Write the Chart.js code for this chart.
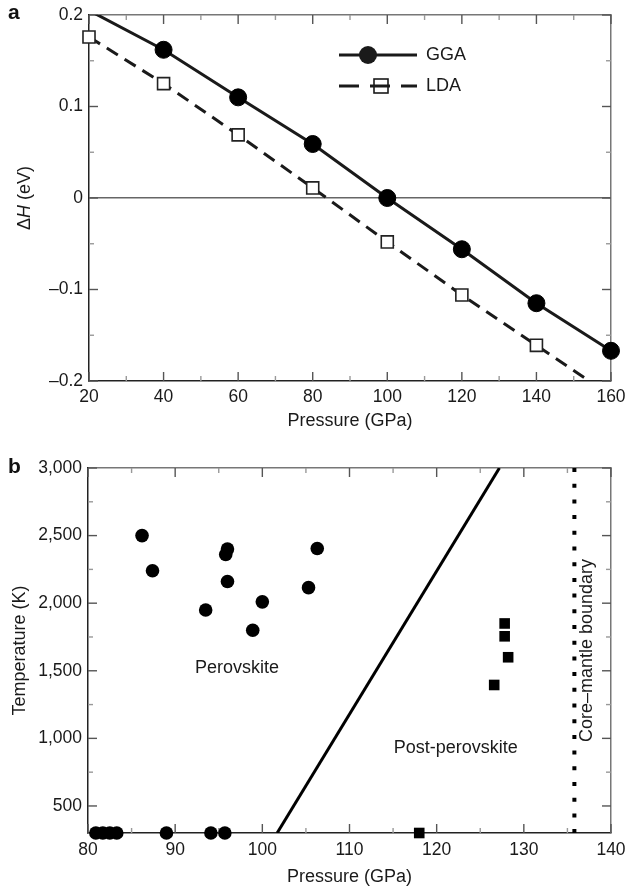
<!DOCTYPE html>
<html lang="en">
<head>
<meta charset="utf-8">
<title>Perovskite / post-perovskite transition</title>
<script src="https://cdn.jsdelivr.net/npm/chart.js@4.4.1/dist/chart.umd.min.js"></script>
<style>
  html, body { margin: 0; padding: 0; background: #fff; }
  .panel { position: absolute; left: 0; width: 627px; }
  #panelA { top: 0; height: 440px; }
  #panelB { top: 440px; height: 448px; }
</style>
</head>
<body>
<div class="panel" id="panelA"><canvas id="enthalpyChart"></canvas></div>
<div class="panel" id="panelB"><canvas id="phaseChart"></canvas></div>
<script>
// panel a: enthalpy difference vs pressure
const pressureA = [20, 40, 60, 80, 100, 120, 140, 160];
const ggaEnthalpy = [0.205, 0.162, 0.110, 0.059, 0.0, -0.056, -0.115, -0.167];
const ldaEnthalpy = [0.176, 0.125, 0.069, 0.011, -0.048, -0.106, -0.161, -0.216];
const pressureTicksA = [20, 40, 60, 80, 100, 120, 140, 160];
const pressureMinorA = [30, 50, 70, 90, 110, 130, 150];
const enthalpyTicks = [-0.2, -0.1, 0, 0.1, 0.2];
const enthalpyMinor = [-0.15, -0.05, 0.05, 0.15];

// panel b: experiments in P-T space
const perovskitePressure = [86.2, 87.4, 93.5, 95.8, 96.0, 96.0, 98.9, 100.0, 105.3, 106.3, 80.9, 81.7, 82.5, 83.3, 89.0, 94.1, 95.7];
const perovskiteTemp = [2500, 2240, 1950, 2360, 2400, 2160, 1800, 2010, 2115, 2405, 300, 300, 300, 300, 300, 300, 300];
const postPvPressure = [127.8, 127.8, 128.2, 126.6, 118.0];
const postPvTemp = [1850, 1755, 1600, 1395, 300];
const boundaryPressure = [101.7, 127.2];
const boundaryTemp = [300, 3000];
const cmbPressure = [135.8, 135.8];
const cmbTemp = [3000, 300];
const pressureTicksB = [80, 90, 100, 110, 120, 130, 140];
const pressureMinorB = [85, 95, 105, 115, 125, 135];
const tempTicks = [500, 1000, 1500, 2000, 2500, 3000];
const tempMinor = [750, 1250, 1750, 2250, 2750];

const INK = "#1a1a1a";
const FONT = "'Liberation Sans', Arial, Helvetica, sans-serif";

// one side of the box frame; tick marks are drawn inward by frameTicks
function frameAxis(position, lo, hi, majors, minors, size, opts = {}) {
  const strong = position === "bottom" || position === "left";
  return {
    type: "linear",
    position: position,
    min: lo,
    max: hi,
    afterBuildTicks: (scale) => {
      const list = majors
        .map((v) => ({ value: v }))
        .concat(minors.map((v) => ({ value: v, minor: true })));
      scale.ticks = list.sort((p, q) => p.value - q.value);
    },
    afterFit: (scale) => {
      if (scale.isHorizontal()) scale.height = size;
      else scale.width = size;
      scale.paddingLeft = 0;
      scale.paddingRight = 0;
      scale.paddingTop = 0;
      scale.paddingBottom = 0;
    },
    border: { display: true, color: strong ? "#222" : "#777", width: 1.5 },
    grid: {
      display: !!opts.gridColor,
      drawOnChartArea: !!opts.gridColor,
      color: opts.gridColor || "rgba(0,0,0,0)",
      lineWidth: 1.5,
      drawTicks: false,
      tickLength: 0,
    },
    ticks: {
      display: !!opts.format,
      autoSkip: false,
      maxRotation: 0,
      padding: opts.padding || 0,
      color: INK,
      font: { family: FONT, size: 17.5 },
      callback: (value, index, ticks) =>
        ticks[index].minor || !opts.format ? "" : opts.format(value),
    },
    title: opts.title || { display: false },
  };
}

function formatEnergy(v) {
  if (v === 0) return "0";
  return (v < 0 ? "\u2013" : "") + Math.abs(v).toFixed(1);
}

// inward major/minor tick marks on all four sides
const frameTicks = {
  id: "frameTicks",
  beforeDatasetsDraw(chart) {
    const { ctx, chartArea } = chart;
    ctx.save();
    ctx.lineWidth = 1.4;
    Object.values(chart.scales).forEach((scale) => {
      scale.ticks.forEach((tick) => {
        const len = tick.minor ? 5 : 9;
        const px = scale.getPixelForValue(tick.value);
        ctx.strokeStyle = tick.minor ? "#999" : "#555";
        ctx.beginPath();
        if (scale.position === "bottom") {
          ctx.moveTo(px, chartArea.bottom);
          ctx.lineTo(px, chartArea.bottom - len);
        } else if (scale.position === "top") {
          ctx.moveTo(px, chartArea.top);
          ctx.lineTo(px, chartArea.top + len);
        } else if (scale.position === "left") {
          ctx.moveTo(chartArea.left, px);
          ctx.lineTo(chartArea.left + len, px);
        } else {
          ctx.moveTo(chartArea.right, px);
          ctx.lineTo(chartArea.right - len, px);
        }
        ctx.stroke();
      });
    });
    ctx.restore();
  },
};

const panelLetter = (letter, y) => ({
  id: "panelLetter" + letter,
  afterDraw(chart) {
    const ctx = chart.ctx;
    ctx.save();
    ctx.font = "bold 21px " + FONT;
    ctx.fillStyle = "#111";
    ctx.fillText(letter, 8, y);
    ctx.restore();
  },
});

// y title with italic H
const enthalpyTitle = {
  id: "enthalpyTitle",
  afterDraw(chart) {
    const { ctx, chartArea } = chart;
    const parts = [["\u0394", ""], ["H", "italic "], [" (eV)", ""]];
    ctx.save();
    ctx.translate(25, (chartArea.top + chartArea.bottom) / 2);
    ctx.rotate(-Math.PI / 2);
    ctx.fillStyle = INK;
    ctx.textBaseline = "middle";
    let total = 0;
    parts.forEach(([t, s]) => {
      ctx.font = s + "18px " + FONT;
      total += ctx.measureText(t).width;
    });
    let x = -total / 2;
    parts.forEach(([t, s]) => {
      ctx.font = s + "18px " + FONT;
      ctx.fillText(t, x, 0);
      x += ctx.measureText(t).width;
    });
    ctx.restore();
  },
};

// line + marker key, like the original
const seriesKey = {
  id: "seriesKey",
  afterDraw(chart) {
    const ctx = chart.ctx;
    const sets = chart.data.datasets;
    ctx.save();
    ctx.strokeStyle = INK;
    ctx.fillStyle = INK;
    ctx.lineWidth = 3;
    ctx.beginPath();
    ctx.moveTo(339, 55);
    ctx.lineTo(417, 55);
    ctx.stroke();
    ctx.beginPath();
    ctx.arc(368, 55, 9, 0, Math.PI * 2);
    ctx.fill();

    ctx.setLineDash([20, 11]);
    ctx.beginPath();
    ctx.moveTo(339, 86);
    ctx.lineTo(417, 86);
    ctx.stroke();
    ctx.setLineDash([]);
    ctx.lineWidth = 1.6;
    ctx.strokeRect(374, 79, 14, 14);

    ctx.font = "18px " + FONT;
    ctx.textBaseline = "middle";
    ctx.fillText(sets[0].label, 426, 55);
    ctx.fillText(sets[1].label, 426, 86);
    ctx.restore();
  },
};

const inEnergyRange = (v) => v <= 0.2 + 1e-9 && v >= -0.2 - 1e-9;

new Chart(document.getElementById("enthalpyChart"), {
  type: "line",
  data: {
    datasets: [
      {
        label: "GGA",
        data: pressureA.map((p, i) => ({ x: p, y: ggaEnthalpy[i] })),
        borderColor: INK,
        backgroundColor: INK,
        borderWidth: 3,
        tension: 0,
        pointStyle: "circle",
        pointRadius: (ctx) => (ctx.raw && !inEnergyRange(ctx.raw.y) ? 0 : 8.5),
        pointBorderWidth: 1,
        pointBackgroundColor: "#000",
        pointBorderColor: "#000",
        clip: { left: 15, right: 15, top: 0, bottom: 0 },
      },
      {
        label: "LDA",
        data: pressureA.map((p, i) => ({ x: p, y: ldaEnthalpy[i] })),
        borderColor: INK,
        backgroundColor: "#fff",
        borderWidth: 3,
        borderDash: [13, 8],
        tension: 0,
        pointStyle: "rect",
        pointRadius: (ctx) => (ctx.raw && !inEnergyRange(ctx.raw.y) ? 0 : 8.5),
        pointBorderWidth: 1.6,
        pointBackgroundColor: "#fff",
        pointBorderColor: "#222",
        clip: { left: 15, right: 15, top: 0, bottom: 0 },
      },
    ],
  },
  options: {
    responsive: true,
    maintainAspectRatio: false,
    animation: false,
    events: [],
    layout: { padding: { top: 15, right: 16, bottom: 0, left: 0 } },
    plugins: { legend: { display: false }, tooltip: { enabled: false } },
    scales: {
      x: frameAxis("bottom", 20, 160, pressureTicksA, pressureMinorA, 59, {
        format: (v) => String(v),
        padding: 6,
        title: {
          display: true,
          text: "Pressure (GPa)",
          color: INK,
          font: { family: FONT, size: 18 },
          padding: { top: 0, bottom: 8 },
        },
      }),
      xTop: frameAxis("top", 20, 160, pressureTicksA, pressureMinorA, 0),
      y: frameAxis("left", -0.2, 0.2, enthalpyTicks, enthalpyMinor, 89, {
        format: formatEnergy,
        padding: 6,
        gridColor: (ctx) =>
          ctx.tick && ctx.tick.value === 0 ? "#666" : "rgba(0,0,0,0)",
      }),
      yRight: frameAxis("right", -0.2, 0.2, enthalpyTicks, enthalpyMinor, 0),
    },
  },
  plugins: [frameTicks, enthalpyTitle, seriesKey, panelLetter("a", 19)],
});

// text notes anchored in data space
const regionNotes = [
  { text: "Perovskite", p: 97.1, t: 1520, vertical: false },
  { text: "Post-perovskite", p: 122.2, t: 929, vertical: false },
  { text: "Core\u2013mantle boundary", p: 137.3, t: 1650, vertical: true },
];

const regionLabels = {
  id: "regionLabels",
  afterDatasetsDraw(chart) {
    const { ctx, scales } = chart;
    ctx.save();
    ctx.fillStyle = INK;
    ctx.font = "18px " + FONT;
    ctx.textAlign = "center";
    ctx.textBaseline = "middle";
    regionNotes.forEach((n) => {
      const px = scales.x.getPixelForValue(n.p);
      const py = scales.y.getPixelForValue(n.t);
      if (n.vertical) {
        ctx.save();
        ctx.translate(px, py);
        ctx.rotate(-Math.PI / 2);
        ctx.fillText(n.text, 0, 0);
        ctx.restore();
      } else {
        ctx.fillText(n.text, px, py);
      }
    });
    ctx.restore();
  },
};

new Chart(document.getElementById("phaseChart"), {
  type: "scatter",
  data: {
    datasets: [
      {
        label: "Perovskite",
        data: perovskitePressure.map((p, i) => ({ x: p, y: perovskiteTemp[i] })),
        pointStyle: "circle",
        pointRadius: 6.8,
        pointBorderWidth: 0,
        pointBackgroundColor: "#000",
        showLine: false,
        clip: false,
      },
      {
        label: "Post-perovskite",
        data: postPvPressure.map((p, i) => ({ x: p, y: postPvTemp[i] })),
        pointStyle: "rect",
        pointRadius: 7.5,
        pointBorderWidth: 0,
        pointBackgroundColor: "#000",
        showLine: false,
        clip: false,
      },
      {
        label: "Phase boundary",
        data: boundaryPressure.map((p, i) => ({ x: p, y: boundaryTemp[i] })),
        showLine: true,
        borderColor: "#000",
        borderWidth: 3,
        pointRadius: 0,
      },
      {
        label: "Core-mantle boundary",
        data: cmbPressure.map((p, i) => ({ x: p, y: cmbTemp[i] })),
        showLine: true,
        borderColor: "#000",
        borderWidth: 4,
        borderDash: [4, 11.7],
        borderCapStyle: "butt",
        pointRadius: 0,
      },
    ],
  },
  options: {
    responsive: true,
    maintainAspectRatio: false,
    animation: false,
    events: [],
    layout: { padding: { top: 28, right: 16, bottom: 0, left: 0 } },
    plugins: { legend: { display: false }, tooltip: { enabled: false } },
    scales: {
      x: frameAxis("bottom", 80, 140, pressureTicksB, pressureMinorB, 55, {
        format: (v) => String(v),
        padding: 7,
        title: {
          display: true,
          text: "Pressure (GPa)",
          color: INK,
          font: { family: FONT, size: 18 },
          padding: { top: 0, bottom: 0 },
        },
      }),
      xTop: frameAxis("top", 80, 140, pressureTicksB, pressureMinorB, 0),
      y: frameAxis("left", 300, 3000, tempTicks, tempMinor, 88, {
        format: (v) => v.toLocaleString("en-US"),
        padding: 6,
        title: {
          display: true,
          text: "Temperature (K)",
          color: INK,
          font: { family: FONT, size: 18 },
          padding: { top: 9, bottom: 0 },
        },
      }),
      yRight: frameAxis("right", 300, 3000, tempTicks, tempMinor, 0),
    },
  },
  plugins: [frameTicks, regionLabels, panelLetter("b", 33)],
});
</script>
</body>
</html>
